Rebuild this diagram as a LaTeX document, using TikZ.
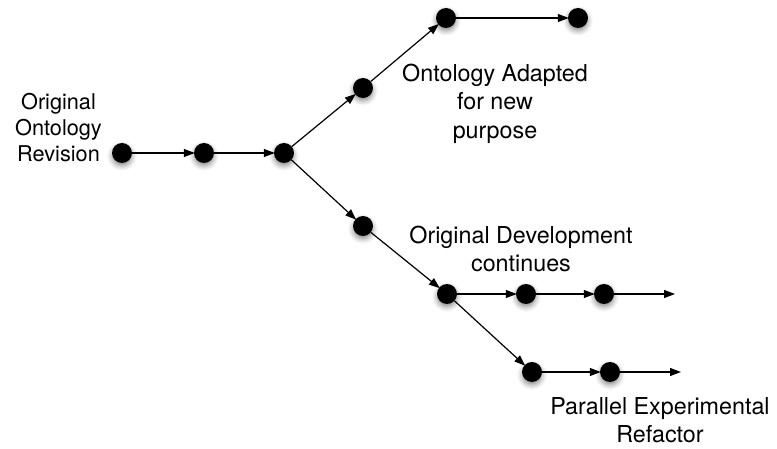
\documentclass[tikz,border=0pt]{standalone}
\usepackage{fontspec}
\setmainfont{TeX Gyre Heros}
\usetikzlibrary{arrows.meta,shadows.blur}

\tikzset{
  rev/.style={circle,fill=black,inner sep=0pt,minimum size=20pt,
    blur shadow={shadow xshift=0pt,shadow yshift=-3pt,shadow blur radius=5pt,shadow opacity=45}},
  link/.style={-{Triangle[length=11pt,width=8pt]},line width=1.2pt,shorten >=-1pt},
  lbl/.style={align=center,inner sep=0pt,font=\fontsize{23.3}{28.5}\selectfont}
}

\begin{document}
\begin{tikzpicture}[x=1pt,y=-1pt]
  \useasboundingbox (0,0) rectangle (777,449);
%trunk
  \node [rev] (orig) at (122,153) {};
  \node [rev] (r2) at (204,153) {};
  \node [rev] (fork) at (284,153) {};
%adapted branch
  \node [rev] (ad1) at (363,88) {};
  \node [rev] (ad2) at (446,18) {};
  \node [rev] (ad3) at (578,18) {};
%development branch
  \node [rev] (dev1) at (363,226) {};
  \node [rev] (dev2) at (447,294) {};
  \node [rev] (dev3) at (526,294) {};
  \node [rev] (dev4) at (604,294) {};
  \coordinate (devEnd) at (674,294);
%experimental branch
  \node [rev] (exp1) at (532,372) {};
  \node [rev] (exp2) at (610,372) {};
  \coordinate (expEnd) at (680,372);

  \draw [link] (orig) -- (r2);
  \draw [link] (r2) -- (fork);
  \draw [link] (fork) -- (ad1);
  \draw [link] (ad1) -- (ad2);
  \draw [link] (ad2) -- (ad3);
  \draw [link] (fork) -- (dev1);
  \draw [link] (dev1) -- (dev2);
  \draw [link] (dev2) -- (dev3);
  \draw [link] (dev3) -- (dev4);
  \draw [link] (dev4) -- (devEnd);
  \draw [link] (dev2) -- (exp1);
  \draw [link] (exp1) -- (exp2);
  \draw [link] (exp2) -- (expEnd);

%labels
  \node [lbl,font=\fontsize{21.7}{26}\selectfont] (origLbl) at (58.5,128) {Original\\Ontology\\Revision};
  \node [lbl] (adLbl) at (495,103.5) {Ontology Adapted\\for new\\purpose};
  \node [lbl] (devLbl) at (521,249) {Original Development\\continues};
  \node [lbl] (expLbl) at (660,420) {Parallel Experimental\\Refactor};
\end{tikzpicture}
\end{document}
